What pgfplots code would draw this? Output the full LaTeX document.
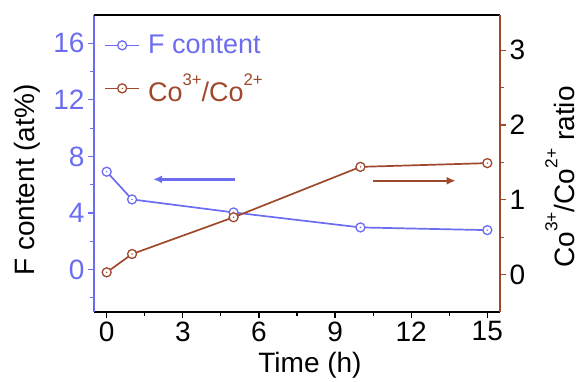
\documentclass[border=0pt]{standalone}
\usepackage{fontspec}
\setmainfont{Liberation Sans}
\usepackage{graphicx}
\usepackage{pgfplots}
\pgfplotsset{compat=1.18}
\usetikzlibrary{arrows.meta}
\definecolor{fblue}{RGB}{108,108,240}
\definecolor{cobrown}{RGB}{158,72,44}
\newcommand\sps[1]{\raisebox{0.62em}{\scalebox{0.62}{#1}}}
\pgfdeclareplotmark{odotb}{%
  \pgfpathcircle{\pgfpointorigin}{\pgfplotmarksize}\pgfsetfillcolor{white}\pgfusepathqfillstroke
  \pgfpathcircle{\pgfpointorigin}{0.8pt}\pgfsetfillcolor{fblue}\pgfusepathqfill}
\pgfdeclareplotmark{odotr}{%
  \pgfpathcircle{\pgfpointorigin}{\pgfplotmarksize}\pgfsetfillcolor{white}\pgfusepathqfillstroke
  \pgfpathcircle{\pgfpointorigin}{0.8pt}\pgfsetfillcolor{cobrown}\pgfusepathqfill}
\pgfplotsset{myaxis/.style={
  width=406pt,height=297pt,scale only axis,
  xmin=-0.5,xmax=15.5,
  tick align=outside, major tick length=6pt, minor tick length=3.5pt,
  every tick label/.append style={font=\fontsize{28}{30}\selectfont},
  label style={font=\fontsize{28}{30}\selectfont},
  /pgf/number format/assume math mode=true,
}}
\begin{document}
\begin{tikzpicture}
\useasboundingbox (-94pt,-69pt) rectangle (491pt,312pt);
\begin{axis}[myaxis, at={(0,0)}, anchor=south west,
  axis x line*=bottom, axis y line*=left,
  x axis line style={-,black,line width=1.2pt},
  y axis line style={-,fblue,line width=1.2pt},
  ymin=-3, ymax=18,
  ytick={0,4,8,12,16}, minor ytick={-2,2,6,10,14},
  xtick={0,3,6,9,12,15}, minor xtick={1.5,4.5,7.5,10.5,13.5},
  y tick style={fblue,line width=1.2pt},
  x tick style={black,line width=1.2pt},
  yticklabel style={text=fblue},
  ylabel={F content (at\%)},
  ylabel style={at={(axis description cs:-0.165,0.444)},anchor=center},
  xlabel={Time (h)},
  xlabel style={at={(axis description cs:0.532,-0.205)},anchor=base},
]
\addplot[fblue, line width=1.7pt, mark=odotb, mark size=4.5pt, mark options={line width=1.3pt}]
  coordinates {(0,6.92) (1,4.96) (5,4.04) (10,2.98) (15,2.79)};
\draw[fblue, line width=2.5pt, -{Latex[length=9pt,width=8pt]}] (axis cs:5.07,6.38) -- (axis cs:1.83,6.38);
\draw[cobrown, line width=2.5pt, -{Latex[length=9pt,width=8pt]}] (axis cs:10.5,6.28) -- (axis cs:13.75,6.28);
\end{axis}
\begin{axis}[myaxis, at={(0,0)}, anchor=south west,
  axis x line*=top, axis y line*=right,
  xtick=\empty, minor xtick={},
  x axis line style={-,black,line width=1.2pt},
  y axis line style={-,cobrown,line width=1.2pt},
  ymin=-0.5, ymax=3.47,
  ytick={0,1,2,3}, minor ytick={0.5,1.5,2.5},
  y tick style={cobrown,line width=1.2pt},
  ylabel={Co\sps{3+}/Co\sps{2+} ratio},
  ylabel style={at={(axis description cs:1.148,0.4545)},anchor=center},
  legend style={at={(axis description cs:0.025,0.939)},anchor=north west, draw=none, fill=none,
    font=\fontsize{27}{30}\selectfont, row sep=14pt, inner sep=0pt},
  legend cell align=left,
  legend image code/.code={\draw[mark repeat=2,mark phase=2] plot coordinates {(0pt,0pt) (17pt,0pt) (34pt,0pt)};},
]
\addlegendimage{fblue, line width=1.7pt, mark=odotb, mark size=4.5pt, mark options={line width=1.3pt}}
\addlegendentry[text=fblue]{\hspace{6pt}F content}
\addplot[cobrown, line width=1.7pt, mark=odotr, mark size=4.5pt, mark options={line width=1.3pt}]
  coordinates {(0,0.03) (1,0.275) (5,0.766) (10,1.44) (15,1.49)};
\addlegendentry[text=cobrown]{\hspace{6pt}Co\sps{3+}/Co\sps{2+}}
\end{axis}
\end{tikzpicture}
\end{document}
